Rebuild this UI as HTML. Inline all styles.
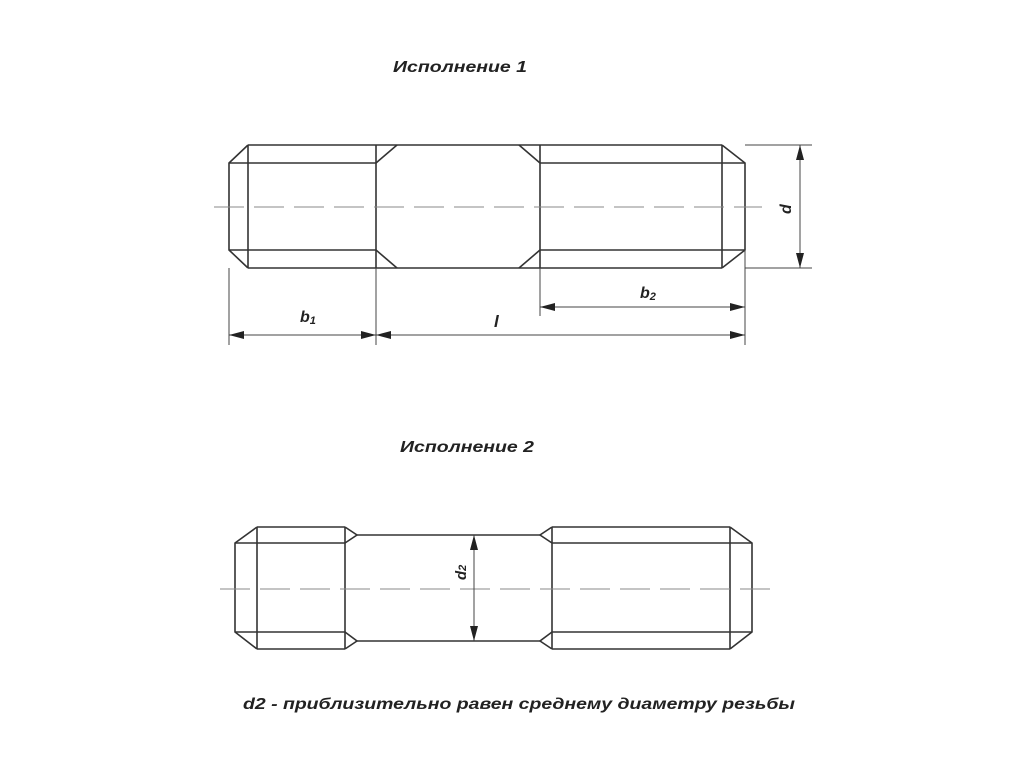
<!DOCTYPE html>
<html><head><meta charset="utf-8"><style>
body{margin:0;background:#fff;}
svg text{font-family:"Liberation Sans",sans-serif;font-style:italic;font-weight:bold;fill:#222;}
</style></head><body>
<svg width="1024" height="768" viewBox="0 0 1024 768" xmlns="http://www.w3.org/2000/svg">
<g stroke="#333" stroke-width="1.6" fill="none">
<line x1="248" y1="145" x2="722" y2="145"/>
<line x1="248" y1="268" x2="722" y2="268"/>
<line x1="229" y1="163" x2="376" y2="163"/>
<line x1="229" y1="250" x2="376" y2="250"/>
<line x1="540" y1="163" x2="745" y2="163"/>
<line x1="540" y1="250" x2="745" y2="250"/>
<polyline points="248,145 229,163 229,250 248,268"/>
<line x1="248" y1="145" x2="248" y2="268"/>
<line x1="376" y1="145" x2="376" y2="268"/>
<line x1="540" y1="145" x2="540" y2="268"/>
<polyline points="397,145 376,163"/><polyline points="397,268 376,250"/>
<polyline points="519,145 540,163"/><polyline points="519,268 540,250"/>
<line x1="722" y1="145" x2="722" y2="268"/>
<polyline points="722,145 745,163 745,250 722,268"/>
</g>
<g stroke="#444" stroke-width="1">
<line x1="214" y1="207" x2="762" y2="207" stroke="#888" stroke-dasharray="30,10"/>
<line x1="745" y1="145" x2="812" y2="145"/><line x1="745" y1="268" x2="812" y2="268"/>
<line x1="800" y1="145" x2="800" y2="268"/>
<line x1="229" y1="268" x2="229" y2="345"/><line x1="376" y1="268" x2="376" y2="345"/>
<line x1="540" y1="268" x2="540" y2="316"/><line x1="745" y1="250" x2="745" y2="345"/>
<line x1="229" y1="335" x2="376" y2="335"/><line x1="376" y1="335" x2="745" y2="335"/>
<line x1="540" y1="307" x2="745" y2="307"/>
</g>
<g fill="#222">
<polygon points="800,145 796,160 804,160"/><polygon points="800,268 796,253 804,253"/>
<polygon points="229,335 244,331 244,339"/><polygon points="376,335 361,331 361,339"/>
<polygon points="376,335 391,331 391,339"/><polygon points="745,335 730,331 730,339"/>
<polygon points="540,307 555,303 555,311"/><polygon points="745,307 730,303 730,311"/>
</g>
<text x="393" y="72" font-size="16" textLength="134" lengthAdjust="spacingAndGlyphs">Исполнение 1</text>
<text x="300" y="322" font-size="16">b<tspan font-size="11" dy="2">1</tspan></text>
<text x="494" y="327" font-size="17">l</text>
<text x="640" y="298" font-size="16">b<tspan font-size="11" dy="2">2</tspan></text>
<text x="0" y="0" font-size="16" transform="translate(791,214) rotate(-90)">d</text>
<g stroke="#333" stroke-width="1.6" fill="none">
<line x1="257" y1="527" x2="345" y2="527"/><line x1="257" y1="649" x2="345" y2="649"/>
<line x1="235" y1="543" x2="345" y2="543"/><line x1="235" y1="632" x2="345" y2="632"/>
<polyline points="257,527 235,543 235,632 257,649"/>
<line x1="257" y1="527" x2="257" y2="649"/>
<line x1="345" y1="527" x2="345" y2="649"/>
<polyline points="345,527 357,535 345,543"/><polyline points="345,632 357,641 345,649"/>
<line x1="357" y1="535" x2="540" y2="535"/><line x1="357" y1="641" x2="540" y2="641"/>
<polyline points="552,527 540,535 552,543"/><polyline points="552,632 540,641 552,649"/>
<line x1="552" y1="527" x2="552" y2="649"/>
<line x1="552" y1="527" x2="730" y2="527"/><line x1="552" y1="649" x2="730" y2="649"/>
<line x1="552" y1="543" x2="752" y2="543"/><line x1="552" y1="632" x2="752" y2="632"/>
<line x1="730" y1="527" x2="730" y2="649"/>
<polyline points="730,527 752,543 752,632 730,649"/>
</g>
<g stroke="#444" stroke-width="1">
<line x1="220" y1="589" x2="776" y2="589" stroke="#888" stroke-dasharray="30,10"/>
<line x1="474" y1="535" x2="474" y2="641"/>
</g>
<g fill="#222">
<polygon points="474,535 470,550 478,550"/><polygon points="474,641 470,626 478,626"/>
</g>
<text x="0" y="0" font-size="15" transform="translate(466,580) rotate(-90)">d<tspan font-size="11">2</tspan></text>
<text x="400" y="452" font-size="16" textLength="134" lengthAdjust="spacingAndGlyphs">Исполнение 2</text>
<text x="243" y="709" font-size="16" textLength="552" lengthAdjust="spacingAndGlyphs">d2 - приблизительно равен среднему диаметру резьбы</text>
</svg>
</body></html>
